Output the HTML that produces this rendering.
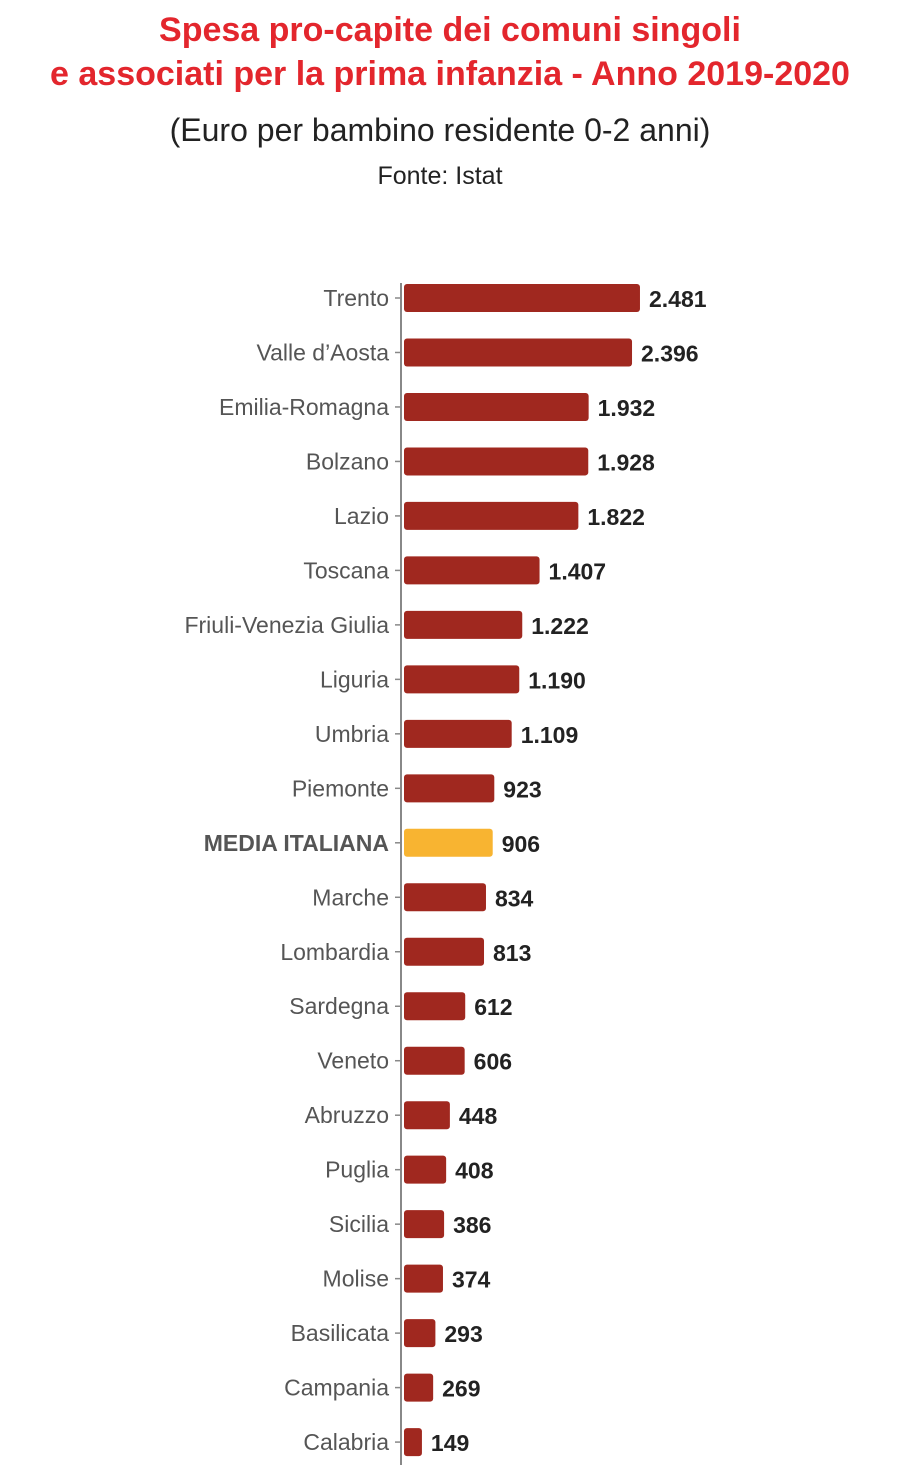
<!DOCTYPE html>
<html><head><meta charset="utf-8"><style>
body{margin:0;width:900px;height:1479px;background:#fff;font-family:"Liberation Sans",sans-serif;overflow:hidden}
.t{position:absolute;left:0;width:900px;text-align:center}
</style></head><body>
<div class="t" style="top:8px;color:#e3262d;font-weight:bold;font-size:34px;line-height:44px">Spesa pro-capite dei comuni singoli<br>e associati per la prima infanzia - Anno 2019-2020</div>
<div class="t" style="top:112px;color:#222;font-size:32px;left:-10px">(Euro per bambino residente 0-2 anni)</div>
<div class="t" style="top:162px;color:#222;font-size:25px;left:-10px">Fonte: Istat</div>
<svg id="c" width="900" height="1479" style="position:absolute;left:0;top:0"></svg>
<script>
const categories=["Trento","Valle d’Aosta","Emilia-Romagna","Bolzano","Lazio","Toscana","Friuli-Venezia Giulia","Liguria","Umbria","Piemonte","MEDIA ITALIANA","Marche","Lombardia","Sardegna","Veneto","Abruzzo","Puglia","Sicilia","Molise","Basilicata","Campania","Calabria"];
const values=[2481,2396,1932,1928,1822,1407,1222,1190,1109,923,906,834,813,612,606,448,408,386,374,293,269,149];
const highlight="MEDIA ITALIANA";
const svg=document.getElementById('c');const NS="http://www.w3.org/2000/svg";
const x0=404,scale=0.0935,minW=4,y0=298,step=54.48,bh=28;
const x=v=>minW+v*scale;const y=i=>y0+i*step;
const fmt=v=>v.toLocaleString('de-DE');
function mk(t,a){const e=document.createElementNS(NS,t);for(const k in a)e.setAttribute(k,a[k]);svg.appendChild(e);return e;}
const ax=mk('line',{x1:401,x2:401,y1:283,y2:1465,stroke:'#888','stroke-width':2});


categories.forEach((c,i)=>{
 const yy=y(i),hl=c===highlight;
 const tk=mk('line',{x1:395,x2:401,y1:yy,y2:yy,stroke:'#888','stroke-width':1.5});
 
 
 const lb=mk('text',{x:389,y:yy+8,'text-anchor':'end','font-size':23,fill:'#555','font-weight':hl?'bold':'normal'});
 lb.textContent=c;
 
 
 const w=x(values[i]);
 const r=mk('rect',{x:x0,y:yy-bh/2,width:w,height:bh,rx:3,fill:hl?'#f8b431':'#a0281f'});
 
 
 const vl=mk('text',{x:x0+w+9,y:yy+9,'font-size':23,'font-weight':'bold',fill:'#222'});
 vl.textContent=fmt(values[i]);
 
 
});
</script>
</body></html>
